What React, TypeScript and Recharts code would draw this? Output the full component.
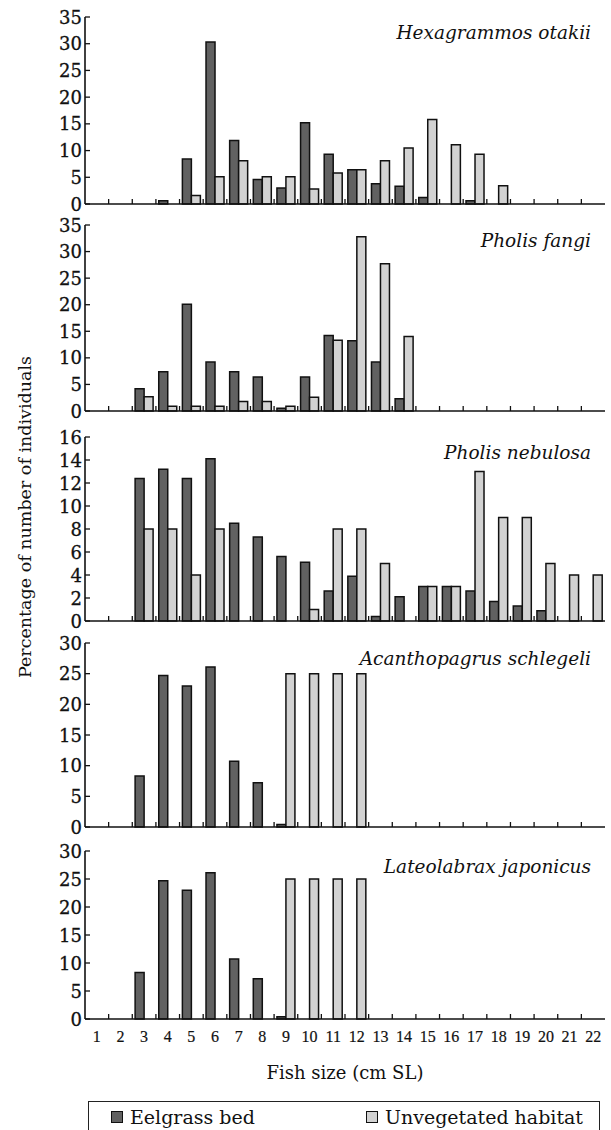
import React from "react";
import { BarChart, Bar, XAxis, YAxis } from "recharts";

const sizes = ["1","2","3","4","5","6","7","8","9","10","11","12","13","14","15","16","17","18","19","20","21","22"];

const hexEel = [null,null,null,0.6,8.4,30.3,11.9,4.6,3.0,15.2,9.3,6.4,3.8,3.3,1.2,null,0.6,null,null,null,null,null];
const hexUnv = [null,null,null,null,1.6,5.1,8.1,5.1,5.1,2.8,5.8,6.4,8.1,10.5,15.8,11.1,9.3,3.4,null,null,null,null];

const fangiEel = [null,null,4.2,7.4,20.1,9.2,7.4,6.4,0.5,6.4,14.2,13.2,9.2,2.3,null,null,null,null,null,null,null,null];
const fangiUnv = [null,null,2.7,0.9,0.9,0.9,1.8,1.8,0.9,2.6,13.3,32.8,27.7,14.0,null,null,null,null,null,null,null,null];

const nebEel = [null,null,12.4,13.2,12.4,14.1,8.5,7.3,5.6,5.1,2.6,3.9,0.4,2.1,3,3,2.6,1.7,1.3,0.9,null,null];
const nebUnv = [null,null,8,8,4,8,null,null,null,1,8,8,5,null,3,3,13,9,9,5,4,4];

const acanEel = [null,null,8.3,24.7,23.0,26.1,10.7,7.2,0.4,null,null,null,null,null,null,null,null,null,null,null,null,null];
const acanUnv = [null,null,null,null,null,null,null,null,25,25,25,25,null,null,null,null,null,null,null,null,null,null];

const lateEel = [null,null,8.3,24.7,23.0,26.1,10.7,7.2,0.4,null,null,null,null,null,null,null,null,null,null,null,null,null];
const lateUnv = [null,null,null,null,null,null,null,null,25,25,25,25,null,null,null,null,null,null,null,null,null,null];

const ticks35 = [0,5,10,15,20,25,30,35];
const ticks16 = [0,2,4,6,8,10,12,14,16];
const ticks30 = [0,5,10,15,20,25,30];

const seriesNames = ["Eelgrass bed", "Unvegetated habitat"];

const build = (eel: (number|null)[], unv: (number|null)[]) =>
  sizes.map((s, i) => ({ size: s, eel: eel[i], unv: unv[i] }));

const W = 611;
const LEFT = 85;
const RIGHT_M = 6;
const PLOT_W = W - LEFT - RIGHT_M;
const BAND = PLOT_W / sizes.length;
const INK = "#111";
const DARK = "#616161";
const LIGHT = "#d2d2d2";
const SERIF = "'DejaVu Serif', serif";
const MARGIN_TOP = 12;

const YTick = (props: any) => {
  const { x, y, payload } = props;
  return (
    <g>
      <text x={x} y={y} textAnchor="end" dominantBaseline="central" fontFamily={SERIF} fontSize={18} fill={INK} stroke={INK} strokeWidth={0.3}>
        {payload.value}
      </text>
      <line x1={x + 3} x2={x + 8} y1={y} y2={y} stroke={INK} strokeWidth={1.3} />
    </g>
  );
};

const makeXTick = (showLabel: boolean) => (props: any) => {
  const { x, y, payload, index } = props;
  return (
    <g>
      {index < sizes.length - 1 && (
        <line x1={x + BAND / 2} x2={x + BAND / 2} y1={y} y2={y - 5} stroke={INK} strokeWidth={1.3} />
      )}
      {showLabel && (
        <text x={x} y={y + 17} textAnchor="middle" dominantBaseline="central" fontFamily="'Liberation Serif', serif" fontSize={16} fill={INK} stroke={INK} strokeWidth={0.2}>
          {payload.value}
        </text>
      )}
    </g>
  );
};

type PanelProps = {
  top: number; bottom: number; data: any[]; max: number; ticks: number[]; name: string; last?: boolean;
};

const Panel = ({ top, bottom, data, max, ticks, name, last }: PanelProps) => {
  const xh = last ? 32 : 10;
  const h = bottom - top + MARGIN_TOP + xh;
  const axisLine = { stroke: INK, strokeWidth: 1.6 };
  return (
    <div style={{ position: "absolute", left: 0, top: top - MARGIN_TOP, width: W, height: h }}>
      <BarChart width={W} height={h} data={data} margin={{ top: MARGIN_TOP, right: RIGHT_M, left: 0, bottom: 0 }} barCategoryGap="12%" barGap={0}>
        <XAxis dataKey="size" type="category" interval={0} tickLine={false} tickSize={0} tickMargin={0} height={xh} axisLine={axisLine} tick={makeXTick(!!last)} />
        <XAxis xAxisId="top" dataKey="size" orientation="top" tick={false} tickLine={false} height={0} axisLine={axisLine} />
        <YAxis domain={[0, max]} ticks={ticks} interval={0} width={LEFT} tickLine={false} tickSize={0} tickMargin={3} axisLine={axisLine} tick={YTick} />
        <YAxis yAxisId="right" orientation="right" domain={[0, max]} tick={false} tickLine={false} width={0} axisLine={axisLine} />
        <Bar dataKey="eel" name={seriesNames[0]} fill={DARK} stroke="#111" strokeWidth={1.5} isAnimationActive={false} />
        <Bar dataKey="unv" name={seriesNames[1]} fill={LIGHT} stroke="#111" strokeWidth={1.5} isAnimationActive={false} />
      </BarChart>
      <div style={{ position: "absolute", right: W - 591, top: MARGIN_TOP + 5, fontFamily: SERIF, fontStyle: "italic", fontSize: 18.5, color: INK, whiteSpace: "nowrap", lineHeight: "22px" }}>
        {name}
      </div>
    </div>
  );
};

const Swatch = ({ color }: { color: string }) => (
  <span style={{ display: "inline-block", width: 10, height: 10, background: color, border: "1px solid #111", marginRight: 7, verticalAlign: "middle", position: "relative", top: -2 }} />
);

export default function App() {
  return (
    <div style={{ position: "absolute", left: 0, top: 0, width: W, height: 1130, background: "#fff", overflow: "hidden" }}>
      <Panel top={17} bottom={204} data={build(hexEel, hexUnv)} max={35} ticks={ticks35} name="Hexagrammos otakii" />
      <Panel top={225} bottom={411} data={build(fangiEel, fangiUnv)} max={35} ticks={ticks35} name="Pholis fangi" />
      <Panel top={437} bottom={621} data={build(nebEel, nebUnv)} max={16} ticks={ticks16} name="Pholis nebulosa" />
      <Panel top={643} bottom={827} data={build(acanEel, acanUnv)} max={30} ticks={ticks30} name="Acanthopagrus schlegeli" />
      <Panel top={851} bottom={1019} data={build(lateEel, lateUnv)} max={30} ticks={ticks30} name="Lateolabrax japonicus" last />
      <svg width={W} height={1130} style={{ position: "absolute", left: 0, top: 0, pointerEvents: "none" }}>
        <text transform="translate(31,517) rotate(-90)" textAnchor="middle" fontFamily={SERIF} fontSize={17.5} fill={INK}>
          Percentage of number of individuals
        </text>
        <text x={345} y={1079} textAnchor="middle" fontFamily={SERIF} fontSize={18} fill={INK}>
          Fish size (cm SL)
        </text>
      </svg>
      <div style={{ position: "absolute", left: 88, top: 1101, width: 512, height: 40, border: "1.5px solid #222", boxSizing: "border-box", fontFamily: SERIF, fontSize: 19, color: INK, display: "flex", justifyContent: "space-between", padding: "2px 16px 0 22px", lineHeight: "26px" }}>
        <span><Swatch color={DARK} />{seriesNames[0]}</span>
        <span><Swatch color={LIGHT} />{seriesNames[1]}</span>
      </div>
    </div>
  );
}
